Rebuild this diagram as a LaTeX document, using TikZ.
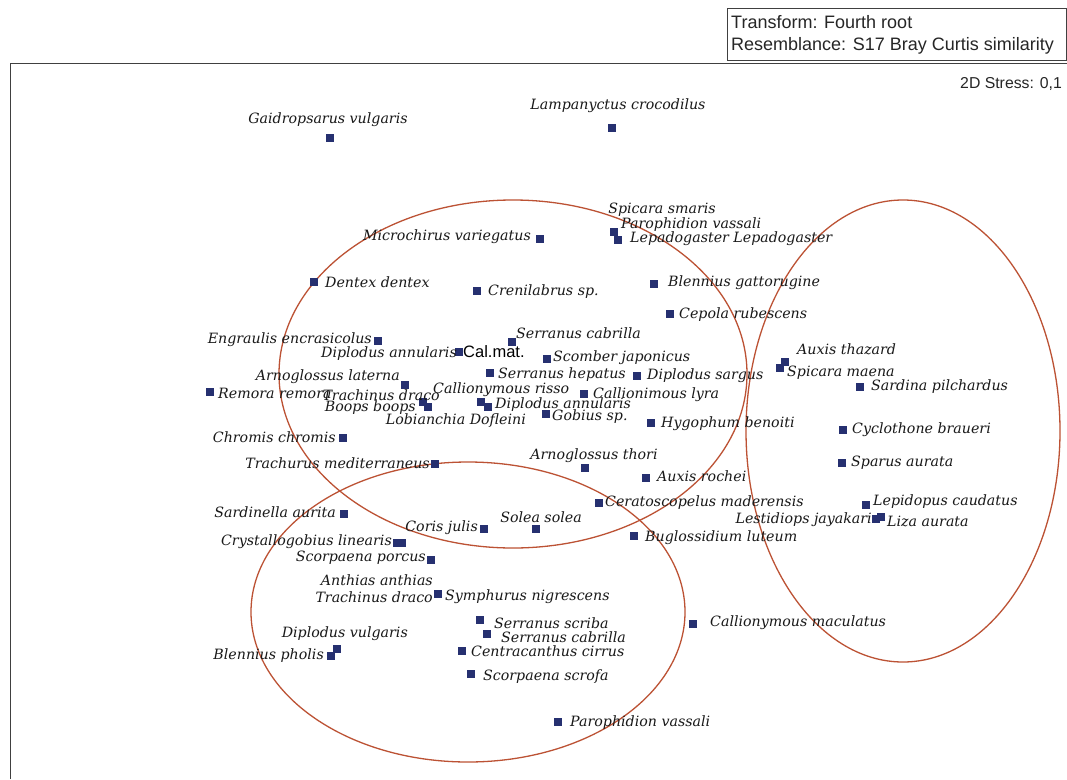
\documentclass[tikz,border=0pt]{standalone}
\usepackage{fontspec}
\newfontfamily\fishfont{DejaVu Serif}
\newfontfamily\plotfont{Liberation Sans}
\definecolor{ringred}{RGB}{188,82,52}
\definecolor{dotblue}{RGB}{38,48,112}

\begin{document}
\begin{tikzpicture}[x=1pt,y=-1pt,
        sq/.style={fill=dotblue,minimum size=7.5pt,inner sep=0pt},
        lab/.style={font=\fishfont\itshape\fontsize{14.2}{15}\selectfont,inner sep=0pt,text=black!90},
        ring/.style={draw=ringred,line width=1.3pt},
        info/.style={font=\plotfont\fontsize{18}{19}\selectfont,inner sep=0pt,text=black!85}]
            \useasboundingbox[fill=white] (0,0) rectangle (1067,779);

            \draw[black!75,line width=1pt] (10,779) -- (10,63) -- (1067,63);
            \draw[black!75,line width=0.8pt] (727,8) rectangle (1066,60);
            \node[info,anchor=west] (trans) at (731,22) {Transform: Fourth root};
            \node[info,anchor=west] (resem) at (731,46) {Resemblance: S17 Bray Curtis similarity};
            \node[info,font=\plotfont\fontsize{15.8}{16}\selectfont,anchor=east] (stress) at (1062,84) {2D Stress: 0,1};

            \draw[ring] (513,374) ellipse [x radius=234, y radius=174];
            \draw[ring] (468,612) ellipse [x radius=217, y radius=150];
            \draw[ring] (903,431) ellipse [x radius=157, y radius=231];

            \foreach \n/\x/\y in {gaid/330/138, lamp/612/128, micro/540/239, spsm/614/232, lepa/618/240,
                    dent/314/282, cren/477/291, blga/654/284, cepo/670/314, engr/378/341, seca/512/342,
                    dian/459/352, scom/547/359, sehe/490/373, disa/637/376, arla/405/385, remo/210/392,
                    trdr/423/402, boop/428/407, cari/481/402, diaw/488/407, gobi/546/414, caly/584/394,
                    hygo/651/423, chro/343/438, trme/435/464, arth/585/468, auro/646/478, cera/599/503,
                    sole/536/529, cori/484/529, sard/344/514, crys/397/543, crya/402/543, bugl/634/536,
                    scpo/431/560, anth/438/594, sesc/480/620, secb/487/634, cama/693/624, divu/337/649,
                    blph/331/656, cent/462/651, scsc/471/674, pava/558/722, auth/785/362, spma/780/368,
                    sapi/860/387, cycl/843/430, spau/842/463, lepi/866/505, lest/876/519, liza/881/517}
                \node[sq] (\n) at (\x,\y) {};

            \foreach \n/\x/\y/\a/\t in {
                    lgaid/328/120/center/Gaidropsarus vulgaris,
                    llamp/618/106/center/Lampanyctus crocodilus,
                    lmicro/531/237/east/Microchirus variegatus,
                    lspsm/662/210/center/Spicara smaris,
                    lpavb/621/225/west/Parophidion vassali,
                    llepa/630/239/west/Lepadogaster Lepadogaster,
                    ldent/325/282/west/Dentex dentex,
                    lcren/488/292/west/Crenilabrus sp.,
                    lblga/668/283/west/Blennius gattorugine,
                    lcepo/679/315/west/Cepola rubescens,
                    lengr/372/340/east/Engraulis encrasicolus,
                    lseca/516/333/west/Serranus cabrilla,
                    ldian/457/354/east/Diplodus annularis,
                    lscom/553/358/west/Scomber japonicus,
                    lsehe/498/375/west/Serranus hepatus,
                    ldisa/647/376/west/Diplodus sargus,
                    larla/400/377/east/Arnoglossus laterna,
                    lremo/218/393/west/Remora remora,
                    ltrdr/440/395/east/Trachinus draco,
                    lboop/416/408/east/Boops boops,
                    lcari/433/390/west/Callionymous risso,
                    ldiaw/495/405/west/Diplodus annularis,
                    llobi/526/421/east/Lobianchia Dofleini,
                    lgobi/552/417/west/Gobius sp.,
                    lcaly/593/395/west/Callionimous lyra,
                    lhygo/661/424/west/Hygophum benoiti,
                    lchro/336/437/east/Chromis chromis,
                    ltrme/430/463/east/Trachurus mediterraneus,
                    larth/594/456/center/Arnoglossus thori,
                    lauro/657/476/west/Auxis rochei,
                    lcera/605/503/west/Ceratoscopelus maderensis,
                    lsole/541/517/center/Solea solea,
                    lcori/478/528/east/Coris julis,
                    lsard/336/512/east/Sardinella aurita,
                    lcrys/392/542/east/Crystallogobius linearis,
                    lbugl/645/538/west/Buglossidium luteum,
                    lscpo/426/558/east/Scorpaena porcus,
                    lanth/433/580/east/Anthias anthias,
                    ltrdb/433/597/east/Trachinus draco,
                    lsymp/445/597/west/Symphurus nigrescens,
                    lsesc/494/623/west/Serranus scriba,
                    lsecb/501/637/west/Serranus cabrilla,
                    lcama/710/623/west/Callionymous maculatus,
                    ldivu/408/634/east/Diplodus vulgaris,
                    lblph/324/656/east/Blennius pholis,
                    lcent/471/651/west/Centracanthus cirrus,
                    lscsc/483/677/west/Scorpaena scrofa,
                    lpava/570/723/west/Parophidion vassali,
                    lauth/797/349/west/Auxis thazard,
                    lspma/787/373/west/Spicara maena,
                    lsapi/871/387/west/Sardina pilchardus,
                    lcycl/852/430/west/Cyclothone braueri,
                    lspau/851/463/west/Sparus aurata,
                    llepi/873/502/west/Lepidopus caudatus,
                    llest/872/520/east/Lestidiops jayakari,
                    lliza/887/521/west/Liza aurata}
                \node[lab,anchor=\a] (\n) at (\x,\y) {\t};

            \node[info,text=black,font=\plotfont\fontsize{16.5}{17}\selectfont,anchor=west] (calmat) at (463,352) {Cal.mat.};
        \end{tikzpicture}
\end{document}
